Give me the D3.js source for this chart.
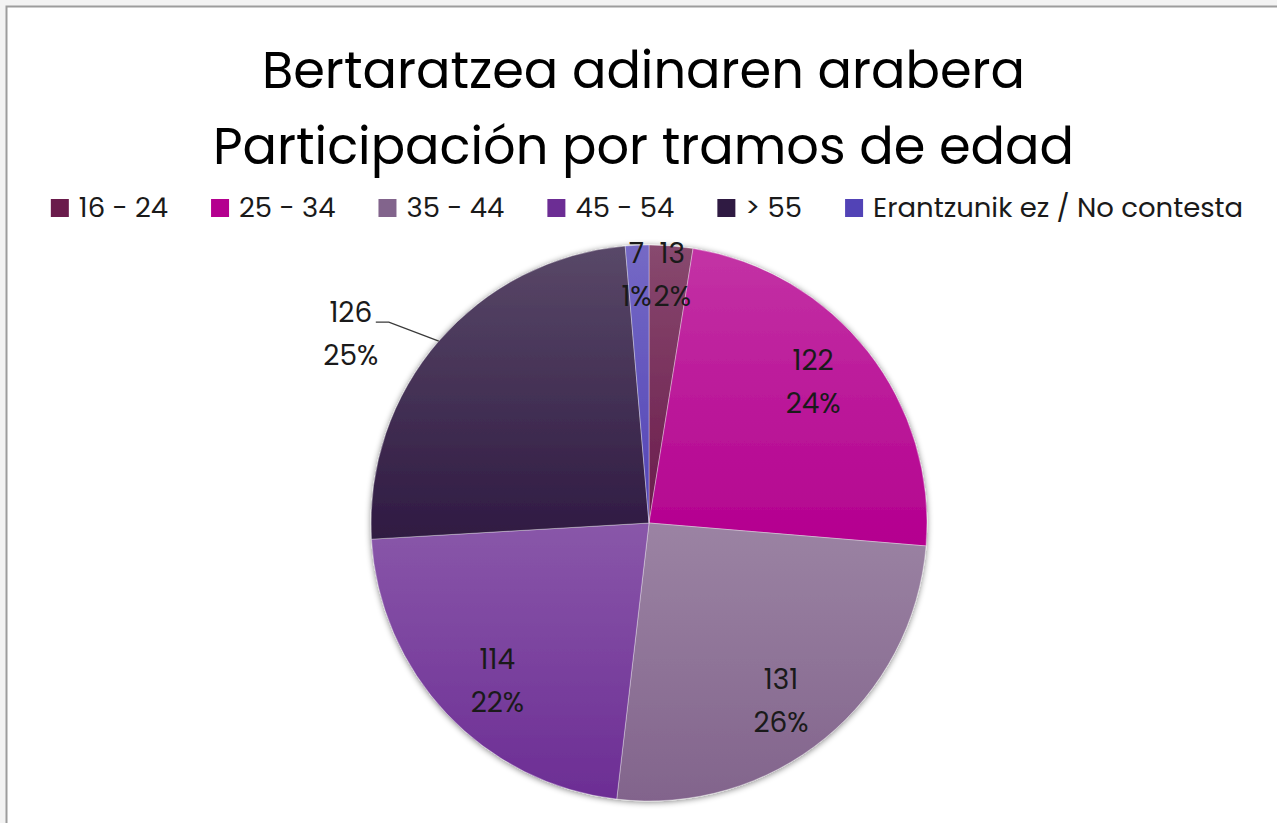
<!DOCTYPE html>
<html>
<head>
<meta charset="utf-8">
<script src="https://cdn.jsdelivr.net/npm/d3@7"></script>
<style>
  html, body { margin: 0; padding: 0; background: #f3f3f3; }
  svg { display: block; }
  text { font-family: 'Poppins', 'Open Sans', sans-serif; fill: #1a1a1a; }
</style>
</head>
<body>
<div class="container"></div>
<script>
const categories = ['16 - 24', '25 - 34', '35 - 44', '45 - 54', '> 55', 'Erantzunik ez / No contesta'];
const values = [13, 122, 131, 114, 126, 7];
const percentLabels = ['2%', '24%', '26%', '22%', '25%', '1%'];
const colors = ['#6a1b4b', '#b4008f', '#82648c', '#6c2d94', '#2f1a42', '#5243b6'];
const titleLines = ['Bertaratzea adinaren arabera', 'Participación por tramos de edad'];
const outsideLabels = ['> 55'];

const width = 1277;
const height = 823;
const cx = 649;
const cy = 523;
const radius = 278;

const svg = d3.select('.container')
  .append('svg')
  .attr('width', width)
  .attr('height', height);

// chart frame
svg.append('rect')
  .attr('x', 6.5)
  .attr('y', 6.5)
  .attr('width', width + 20)
  .attr('height', height + 20)
  .attr('fill', '#fff')
  .attr('stroke', '#9d9d9d')
  .attr('stroke-width', 2);

const defs = svg.append('defs');

const shadow = defs.append('filter')
  .attr('id', 'shadow')
  .attr('x', '-10%').attr('y', '-10%')
  .attr('width', '120%').attr('height', '120%');
shadow.append('feGaussianBlur').attr('in', 'SourceAlpha').attr('stdDeviation', 3).attr('result', 'blur');
shadow.append('feOffset').attr('in', 'blur').attr('dy', 1).attr('result', 'off');
shadow.append('feComponentTransfer').attr('in', 'off').attr('result', 'soft')
  .append('feFuncA').attr('type', 'linear').attr('slope', 0.5);
const merge = shadow.append('feMerge');
merge.append('feMergeNode').attr('in', 'soft');
merge.append('feMergeNode').attr('in', 'SourceGraphic');

colors.forEach((c, i) => {
  const g = defs.append('linearGradient')
    .attr('id', 'grad' + i)
    .attr('x1', 0).attr('y1', 0)
    .attr('x2', 0).attr('y2', 1);
  g.append('stop').attr('offset', '0%').attr('stop-color', d3.interpolateRgb(c, '#ffffff')(0.2));
  g.append('stop').attr('offset', '100%').attr('stop-color', c);
});

// title
svg.selectAll('.title')
  .data(titleLines)
  .enter()
  .append('text')
  .attr('class', 'title')
  .attr('x', 643.5)
  .attr('y', (d, i) => 88 + i * 76)
  .attr('text-anchor', 'middle')
  .attr('font-size', 51)
  .style('fill', '#000')
  .text(d => d);

// legend
const legend = svg.append('g').attr('class', 'legend');
const items = legend.selectAll('g')
  .data(categories)
  .enter()
  .append('g');
items.append('rect')
  .attr('width', 18)
  .attr('height', 18)
  .attr('y', 199)
  .attr('fill', (d, i) => colors[i]);
items.append('text')
  .attr('x', 28)
  .attr('y', 217)
  .attr('font-size', 27.5)
  .text(d => d);

let lx = 0;
items.each(function () {
  const w = this.querySelector('text').getComputedTextLength();
  d3.select(this).attr('transform', `translate(${lx},0)`);
  lx += 28 + w + 43;
});
const legendWidth = lx - 43;
legend.attr('transform', `translate(${647 - legendWidth / 2},0)`);

// pie
const pie = d3.pie().sort(null).value(d => d)(values);
const arc = d3.arc().innerRadius(0).outerRadius(radius);
const total = d3.sum(values);

const pieG = svg.append('g')
  .attr('transform', `translate(${cx},${cy})`);

pieG.append('g')
  .attr('filter', 'url(#shadow)')
  .selectAll('path')
  .data(pie)
  .enter()
  .append('path')
  .attr('d', arc)
  .attr('fill', (d, i) => `url(#grad${i})`)
  .attr('stroke', 'rgba(255,255,255,0.35)')
  .attr('stroke-width', 1);

const labelPos = pie.map((d, i) => {
  const mid = (d.startAngle + d.endAngle) / 2;
  const s = Math.sin(mid), c = Math.cos(mid);
  if (outsideLabels.includes(categories[i])) {
    const edge = [s * radius, -c * radius];
    return { x: edge[0] - 88, y: edge[1] - 8, edge: edge, outside: true };
  }
  // thin slices: label pushed to the rim
  if (d.value / total < 0.03) {
    return { x: s * radius * 1.05, y: -c * radius * 0.895, outside: false };
  }
  return { x: s * radius * 0.75, y: -c * radius * 0.825, outside: false };
});

// leader lines
labelPos.filter(p => p.outside).forEach(p => {
  pieG.append('polyline')
    .attr('points', [p.edge, [p.x + 38, p.y - 11], [p.x + 25, p.y - 11]].map(q => q.join(',')).join(' '))
    .attr('fill', 'none')
    .attr('stroke', '#3a3a3a')
    .attr('stroke-width', 1.3);
});

const labels = pieG.selectAll('.label')
  .data(pie)
  .enter()
  .append('text')
  .attr('class', 'label')
  .attr('text-anchor', 'middle')
  .attr('font-size', 28);
labels.append('tspan')
  .attr('x', (d, i) => labelPos[i].x)
  .attr('y', (d, i) => labelPos[i].y - 11.5)
  .text(d => d.value);
labels.append('tspan')
  .attr('x', (d, i) => labelPos[i].x)
  .attr('y', (d, i) => labelPos[i].y + 31.5)
  .text((d, i) => percentLabels[i]);
</script>
</body>
</html>
